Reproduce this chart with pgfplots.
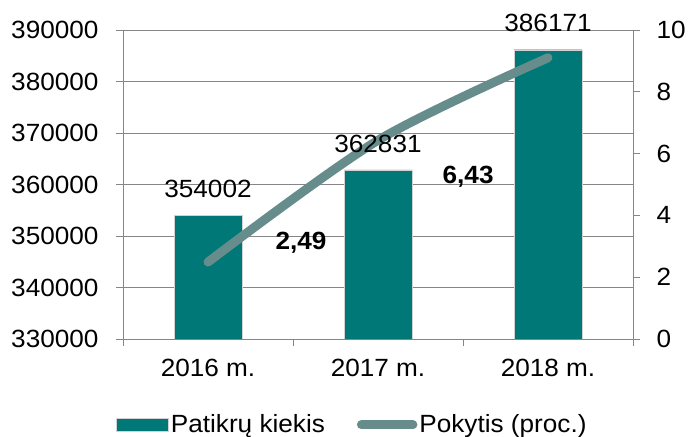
\documentclass[border=0pt]{standalone}
\usepackage{pgfplots}
\pgfplotsset{compat=1.18}
\usepackage{fontspec}
\setmainfont[FakeStretch=1.05]{Liberation Sans}
\definecolor{barteal}{HTML}{007878}
\definecolor{linegray}{HTML}{678C8C}
\definecolor{axgray}{HTML}{868686}

\begin{document}
\fontsize{25}{29}\selectfont
\begin{tikzpicture}[x=1bp,y=1bp]
\pgfplotsset{
  every axis/.append style={
    scale only axis,
    width=510bp, height=309bp,
    xmin=-0.5, xmax=2.5,
    axis line style={axgray, line width=0.9bp},
    tick style={axgray, line width=0.9bp},
    tick align=outside,
    major tick length=7bp,
    tick label style={font=\fontsize{25}{29}\selectfont},
  },
  barlabels/.style={
    nodes near coords, nodes near coords align={vertical},
    every node near coord/.append style={font=\fontsize{25}{29}\selectfont, yshift=9bp},
    point meta=explicit symbolic},
}
\pgfplotstableread{
x  y
0  354002
1  362831
2  386171
}\bars
\begin{axis}[
  ymin=330000, ymax=390000,
  ytick={330000,340000,350000,360000,370000,380000,390000},
  yticklabels={330000,340000,350000,360000,370000,380000,390000},
  yticklabel style={xshift=-9bp},
  scaled y ticks=false,
  axis y line*=left,
  axis x line*=bottom,
  xtick={-0.5,0.5,1.5,2.5},
  xticklabels={},
  extra x ticks={0,1,2},
  extra x tick labels={2016 m.,2017 m.,2018 m.},
  extra x tick style={major tick length=0pt, tick label style={yshift=-12bp}},
  ymajorgrids,
  grid style={axgray, line width=0.9bp},
  legend style={draw=none, at={(0.45,-0.278)}, anchor=center,
    legend columns=2, font=\fontsize{25}{29}\selectfont,
    /tikz/every even column/.append style={column sep=30bp}},
  legend cell align=left,
]
\addplot[ybar, bar width=68bp, fill=barteal, draw=gray!35,
  legend image code/.code={\filldraw[fill=barteal, draw=gray!35] (0bp,-6.5bp) rectangle (52bp,6.5bp);}]
  table[x=x, y=y] {\bars};
\addlegendentry{Patikrų kiekis}
\addlegendimage{legend image code/.code={\draw[linegray, line width=9bp, line cap=round] (4.5bp,0bp) -- (56bp,0bp);}}
\addlegendentry{Pokytis (proc.)}
\end{axis}
\begin{axis}[
  ymin=0, ymax=10,
  ytick={0,2,4,6,8,10},
  yticklabels={0,2,4,6,8,10},
  yticklabel style={xshift=8bp},
  axis y line*=right,
  axis x line=none,
  clip=false,
]
\addplot[linegray, line width=9bp, line cap=round, line join=round, smooth, tension=0.5]
  coordinates {(0,2.49) (1,6.43) (2,9.1)};
\node[font=\bfseries\fontsize{25}{29}\selectfont] at (axis cs:0.547,3.13) {2,49};
\node[font=\bfseries\fontsize{25}{29}\selectfont] at (axis cs:1.53,5.24) {6,43};
\end{axis}
% bar value labels drawn over the line
\begin{axis}[
  ymin=330000, ymax=390000,
  hide axis, clip=false,
]
\addplot[ybar, bar width=68bp, draw=none, fill=none, barlabels]
  table[x=x, y=y, meta=y] {\bars};
\end{axis}
\pgfresetboundingbox
\path[use as bounding box] (-123,-98) rectangle (566,339);
\end{tikzpicture}
\end{document}
